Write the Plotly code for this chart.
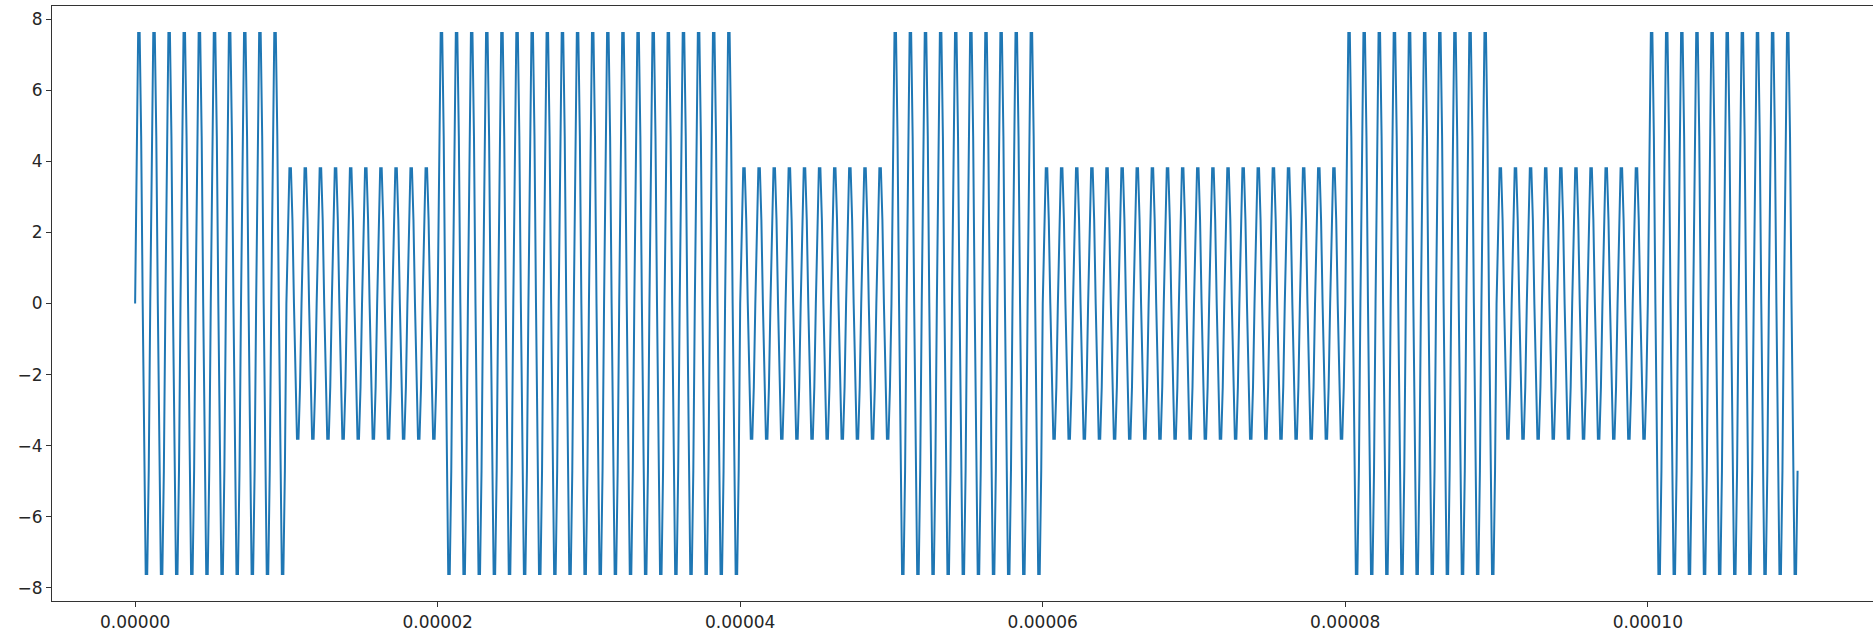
import numpy as np
import plotly.graph_objects as go

# Data: ASK-modulated carrier
bits = [1, 0, 1, 1, 0, 1, 0, 0, 1, 0, 1]
amp_for_bit = {1: 8.0, 0: 4.0}
carrier_freq = 1e6          # Hz
bit_duration = 1e-5         # s
sample_step = 1e-7          # s

x_tick_vals = [0, 2e-5, 4e-5, 6e-5, 8e-5, 1e-4]
x_tick_text = ["0.00000", "0.00002", "0.00004", "0.00006", "0.00008", "0.00010"]
y_tick_vals = [-8, -6, -4, -2, 0, 2, 4, 6, 8]

t = np.arange(0, len(bits) * bit_duration, sample_step)
bit_index = np.minimum((t / bit_duration + 1e-9).astype(int), len(bits) - 1)
amps = np.array([amp_for_bit[bits[i]] for i in bit_index])
signal = amps * np.sin(2 * np.pi * carrier_freq * t)

fig = go.Figure()
fig.add_trace(go.Scatter(x=t, y=signal, mode="lines",
                         line=dict(color="#1f77b4", width=2), showlegend=False,
                         hoverinfo="skip"))

tmax = t[-1]
xmarg = 0.05 * tmax
ymax = float(np.max(np.abs(signal)))
ymarg = 0.05 * 2 * ymax

left_px, right_px = 52, 1873
px_per_unit = 1512.7 / 1e-4
x_lo = -xmarg
x_hi = x_lo + (right_px - left_px) / px_per_unit

font = dict(family="DejaVu Sans", size=17, color="#262626")
fig.update_layout(
    width=1873, height=633,
    margin=dict(l=left_px, r=0, t=6, b=32),
    plot_bgcolor="white", paper_bgcolor="white",
    font=font,
    xaxis=dict(range=[x_lo, x_hi], tickvals=x_tick_vals, ticktext=x_tick_text,
               showgrid=False, zeroline=False, showline=True, linecolor="#333333",
               linewidth=1.2, mirror=True, ticks="outside", ticklen=5,
               tickcolor="#333333", tickfont=font),
    yaxis=dict(range=[-ymax - ymarg, ymax + ymarg], tickvals=y_tick_vals,
               ticktext=[("\u2212" + str(-v)) if v < 0 else str(v) for v in y_tick_vals],
               showgrid=False, zeroline=False, showline=True, linecolor="#333333",
               linewidth=1.2, mirror=False, ticks="outside", ticklen=5,
               tickcolor="#333333", tickfont=font),
)

fig.write_html("out.html")
